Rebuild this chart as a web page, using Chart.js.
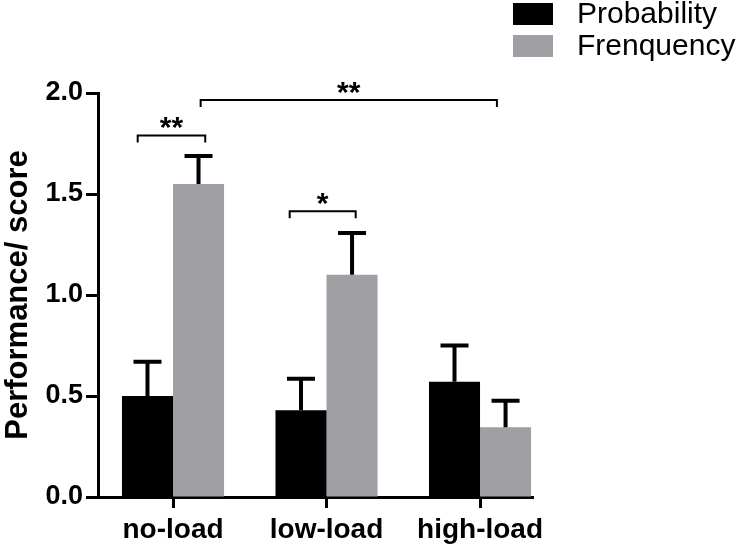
<!DOCTYPE html>
<html>
<head>
<meta charset="utf-8">
<script src="https://cdn.jsdelivr.net/npm/chart.js@4"></script>
<style>
  html, body { margin: 0; padding: 0; background: #fff; }
  #chart { display: block; }
</style>
</head>
<body>
<canvas id="chart" width="739" height="545"></canvas>
<script>
const categories = ["no-load", "low-load", "high-load"];
const seriesNames = ["Probability", "Frenquency"];
const probability = [0.50, 0.43, 0.57];
const probabilityErr = [0.17, 0.155, 0.18];
const frequency = [1.55, 1.10, 0.345];
const frequencyErr = [0.138, 0.207, 0.132];
const yTicks = [0, 0.5, 1.0, 1.5, 2.0];

// significance brackets, x in category units, y in score units
const brackets = [
  { from: -0.23, to: 0.21, y: 1.79, label: "**" },
  { from: 0.18, to: 2.11, y: 1.965, label: "**" },
  { from: 0.76, to: 1.19, y: 1.415, label: "*" }
];

const FONT = "'Liberation Sans', Arial, sans-serif";

const errorBarPlugin = {
  id: "errorBars",
  afterDatasetsDraw(chart) {
    const ctx = chart.ctx;
    const yScale = chart.scales.y;
    chart.data.datasets.forEach((ds, i) => {
      const meta = chart.getDatasetMeta(i);
      meta.data.forEach((bar, j) => {
        const v = ds.data[j].y;
        const top = yScale.getPixelForValue(v + ds.errors[j]);
        const base = yScale.getPixelForValue(v);
        ctx.save();
        ctx.strokeStyle = "#000";
        ctx.lineWidth = 4;
        ctx.beginPath();
        ctx.moveTo(bar.x, base);
        ctx.lineTo(bar.x, top);
        ctx.moveTo(bar.x - 14, top);
        ctx.lineTo(bar.x + 14, top);
        ctx.stroke();
        ctx.restore();
      });
    });
  }
};

const bracketPlugin = {
  id: "brackets",
  afterDraw(chart) {
    const ctx = chart.ctx;
    const xs = chart.scales.x;
    const ys = chart.scales.y;
    ctx.save();
    ctx.strokeStyle = "#000";
    ctx.lineWidth = 2;
    ctx.fillStyle = "#000";
    ctx.font = "bold 30px " + FONT;
    ctx.textAlign = "center";
    ctx.textBaseline = "alphabetic";
    brackets.forEach(b => {
      const x1 = xs.getPixelForValue(b.from);
      const x2 = xs.getPixelForValue(b.to);
      const y = ys.getPixelForValue(b.y);
      ctx.beginPath();
      ctx.moveTo(x1, y + 7);
      ctx.lineTo(x1, y);
      ctx.lineTo(x2, y);
      ctx.lineTo(x2, y + 7);
      ctx.stroke();
      ctx.fillText(b.label, (x1 + x2) / 2, y + 2);
    });
    ctx.restore();
  }
};

const legendPlugin = {
  id: "cornerLegend",
  afterDraw(chart) {
    const ctx = chart.ctx;
    ctx.save();
    ctx.font = "30px " + FONT;
    ctx.textBaseline = "middle";
    ctx.textAlign = "left";
    chart.data.datasets.forEach((ds, i) => {
      const top = 3 + i * 32;
      ctx.fillStyle = ds.backgroundColor;
      ctx.fillRect(513, top, 40, 22);
      ctx.fillStyle = "#000";
      ctx.fillText(ds.label, 577, top + 12);
    });
    ctx.restore();
  }
};

new Chart(document.getElementById("chart"), {
  type: "bar",
  data: {
    datasets: [
      {
        label: seriesNames[0],
        data: probability.map((v, i) => ({ x: i, y: v })),
        errors: probabilityErr,
        backgroundColor: "#000000"
      },
      {
        label: seriesNames[1],
        data: frequency.map((v, i) => ({ x: i, y: v })),
        errors: frequencyErr,
        backgroundColor: "#a0a0a4"
      }
    ]
  },
  options: {
    responsive: false,
    animation: false,
    devicePixelRatio: 1,
    categoryPercentage: 0.665,
    barPercentage: 1,
    layout: { padding: { top: 93, right: 206, left: 0, bottom: 0 } },
    plugins: {
      legend: { display: false },
      tooltip: { enabled: false }
    },
    scales: {
      x: {
        type: "linear",
        min: -0.4886,
        max: 2.345,
        offset: false,
        afterBuildTicks: (scale) => {
          scale.ticks = categories.map((c, i) => ({ value: i }));
        },
        afterFit: (scale) => { scale.height = 48; },
        border: { display: true, color: "#000", width: 3 },
        grid: {
          offset: false,
          drawOnChartArea: false,
          drawTicks: true,
          tickLength: 11,
          tickWidth: 3,
          tickColor: "#000"
        },
        ticks: {
          autoSkip: false,
          maxRotation: 0,
          padding: 5,
          color: "#000",
          font: { family: FONT, size: 28, weight: "bold" },
          callback: (v) => categories[v]
        }
      },
      y: {
        min: 0,
        max: 2,
        afterBuildTicks: (scale) => {
          scale.ticks = yTicks.map(v => ({ value: v }));
        },
        afterFit: (scale) => { scale.width = 98; },
        border: { display: true, color: "#000", width: 3 },
        grid: {
          drawOnChartArea: false,
          drawTicks: true,
          tickLength: 12,
          tickWidth: 3,
          tickColor: "#000"
        },
        ticks: {
          padding: 3,
          color: "#000",
          font: { family: FONT, size: 27, weight: "bold" },
          callback: (v) => v.toFixed(1)
        },
        title: {
          display: true,
          text: "Performance/ score",
          color: "#000",
          padding: 0,
          font: { family: FONT, size: 31, weight: "bold" }
        }
      }
    }
  },
  plugins: [errorBarPlugin, bracketPlugin, legendPlugin]
});
</script>
</body>
</html>
